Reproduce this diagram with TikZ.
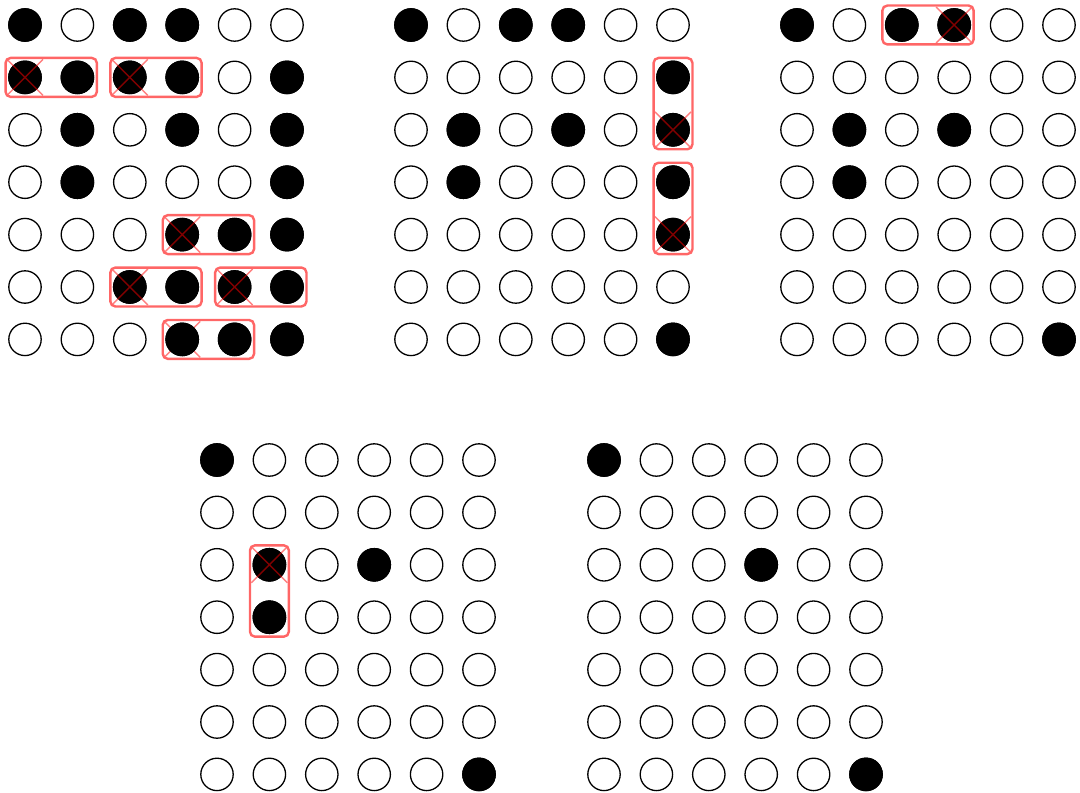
\documentclass[tikz,border=0pt]{standalone}
\usepackage{tikz}
\usetikzlibrary{fit}

\tikzset{
    dot/.style={circle, draw=black, line width=0.65pt, minimum size=16.2pt, inner sep=0pt},
    pairbox/.style={draw=red!60, line width=1.2pt, rounded corners=2.5pt, inner sep=1.3pt},
    crossline/.style={red, opacity=0.5, line width=0.7pt}
}

\begin{document}
\begin{tikzpicture}[x=0.5pt, y=-0.5pt]
    \useasboundingbox (0,0) rectangle (1080,792);
    % five boards of 7 x 6 holes
    \foreach \g/\gx/\gy in {1/25/25, 2/411/25, 3/797/25, 4/217/460, 5/604/460} {
        \foreach \r in {1,...,7} {
            \foreach \c in {1,...,6} {
                \node[dot] (g\g-\r-\c) at ({\gx+52.4*(\c-1)}, {\gy+52.4*(\r-1)}) {};
            }
        }
    }
    % this cross sits under its stone
    \draw[crossline] (g1-7-4) ++(-18,-18) -- ++(36,36) (g1-7-4) ++(-18,18) -- ++(36,-36);
    \foreach \n in {g1-1-1, g1-1-3, g1-1-4, g1-2-1, g1-2-2, g1-2-3, g1-2-4, g1-2-6,
                    g1-3-2, g1-3-4, g1-3-6, g1-4-2, g1-4-6, g1-5-4, g1-5-5, g1-5-6,
                    g1-6-3, g1-6-4, g1-6-5, g1-6-6, g1-7-4, g1-7-5, g1-7-6,
                    g2-1-1, g2-1-3, g2-1-4, g2-2-6, g2-3-2, g2-3-4, g2-3-6,
                    g2-4-2, g2-4-6, g2-5-6, g2-7-6,
                    g3-1-1, g3-1-3, g3-1-4, g3-3-2, g3-3-4, g3-4-2, g3-7-6,
                    g4-1-1, g4-3-2, g4-3-4, g4-4-2, g4-7-6,
                    g5-1-1, g5-3-4, g5-7-6} {
        \node[dot, fill=black] (s-\n) at (\n) {};
    }
    \foreach \n in {g1-2-1, g1-2-3, g1-5-4, g1-6-3, g1-6-5, g2-3-6, g2-5-6, g3-1-4, g4-3-2} {
        \draw[crossline] (\n) ++(-18,-18) -- ++(36,36) (\n) ++(-18,18) -- ++(36,-36);
    }
    \foreach \a/\b in {g1-2-1/g1-2-2, g1-2-3/g1-2-4, g1-5-4/g1-5-5, g1-6-3/g1-6-4,
                       g1-6-5/g1-6-6, g1-7-4/g1-7-5, g2-2-6/g2-3-6, g2-4-6/g2-5-6,
                       g3-1-3/g3-1-4, g4-3-2/g4-4-2} {
        \node[pairbox, fit=(\a)(\b)] (box-\a) {};
    }
\end{tikzpicture}
\end{document}
